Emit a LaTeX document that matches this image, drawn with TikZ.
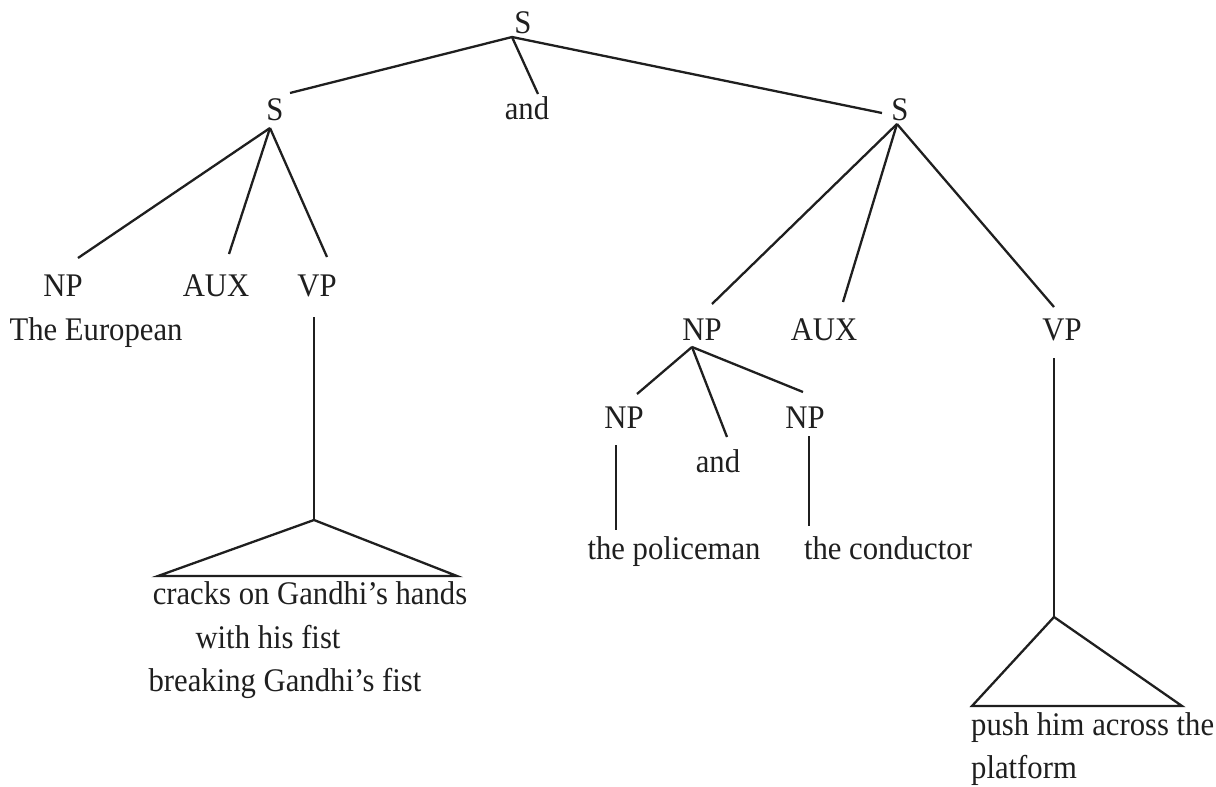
\documentclass[tikz,border=0pt]{standalone}
\usepackage{fontspec}
\setmainfont{Liberation Serif}[FakeStretch=0.93]
\begin{document}
\begin{tikzpicture}[x=1pt,y=-1pt,
  lbl/.style={inner sep=0pt,anchor=base,text=black!88,font=\fontsize{33}{40}\selectfont},
  lblw/.style={lbl,anchor=base west},
  edge/.style={draw=black!88,line width=2.3pt},
  roof/.style={edge,line join=miter}]
\useasboundingbox (0,0) rectangle (1216,787);

% --- labels ---
\node[lbl] (s0)   at (523,33)  {S};
\node[lbl] (sL)   at (275,120) {S};
\node[lbl] (and0) at (527,119) {and};
\node[lbl] (sR)   at (900,120) {S};

\node[lbl] (npL)  at (63,296)  {NP};
\node[lbl] (auxL) at (216,296) {AUX};
\node[lbl] (vpL)  at (317,296) {VP};
\node[lbl] (eur)  at (96,340)  {The European};

\node[lbl] (cr1)  at (310,604) {cracks on Gandhi’s hands};
\node[lbl] (cr2)  at (268,648) {with his fist};
\node[lbl] (cr3)  at (285,691) {breaking Gandhi’s fist};

\node[lbl] (npR)  at (702,340) {NP};
\node[lbl] (auxR) at (824,340) {AUX};
\node[lbl] (vpR)  at (1062,340){VP};

\node[lbl] (npA)  at (624,428) {NP};
\node[lbl] (and1) at (718,472) {and};
\node[lbl] (npB)  at (805,428) {NP};
\node[lbl] (pol)  at (674,559) {the policeman};
\node[lbl] (con)  at (888,559) {the conductor};

\node[lblw] (push) at (971,735) {push him across the};
\node[lblw] (plat) at (971,778) {platform};

% --- branch points and line ends ---
\coordinate (s0b)   at (512,37);
\coordinate (sLt)   at (290,93);
\coordinate (and0t) at (538,94);
\coordinate (sRt)   at (882,113);

\coordinate (sLb)   at (270,128);
\coordinate (npLt)  at (78,258);
\coordinate (auxLt) at (229,254);
\coordinate (vpLt)  at (327,257);

\coordinate (vpLb)  at (314,317);
\coordinate (trLa)  at (314,520);
\coordinate (trLl)  at (158,576);
\coordinate (trLr)  at (457,576);

\coordinate (sRb)   at (897,124);
\coordinate (npRt)  at (712,304);
\coordinate (auxRt) at (843,302);
\coordinate (vpRt)  at (1054,307);

\coordinate (npRb)  at (692,347);
\coordinate (npAt)  at (637,394);
\coordinate (and1t) at (727,437);
\coordinate (npBt)  at (803,392);

\coordinate (npAb)  at (616,445);
\coordinate (polt)  at (616,530);
\coordinate (npBb)  at (809,436);
\coordinate (cont)  at (809,526);

\coordinate (vpRb)  at (1054,358);
\coordinate (trRa)  at (1054,617);
\coordinate (trRl)  at (972,706);
\coordinate (trRr)  at (1182,706);

% --- branches ---
\draw[edge] (s0b) -- (sLt);
\draw[edge] (s0b) -- (and0t);
\draw[edge] (s0b) -- (sRt);

\draw[edge] (sLb) -- (npLt);
\draw[edge] (sLb) -- (auxLt);
\draw[edge] (sLb) -- (vpLt);

\draw[edge] (vpLb) -- (trLa);
\draw[roof] (trLa) -- (trLl) -- (trLr) -- cycle;

\draw[edge] (sRb) -- (npRt);
\draw[edge] (sRb) -- (auxRt);
\draw[edge] (sRb) -- (vpRt);

\draw[edge] (npRb) -- (npAt);
\draw[edge] (npRb) -- (and1t);
\draw[edge] (npRb) -- (npBt);

\draw[edge] (npAb) -- (polt);
\draw[edge] (npBb) -- (cont);

\draw[edge] (vpRb) -- (trRa);
\draw[roof] (trRa) -- (trRl) -- (trRr) -- cycle;
\end{tikzpicture}
\end{document}
